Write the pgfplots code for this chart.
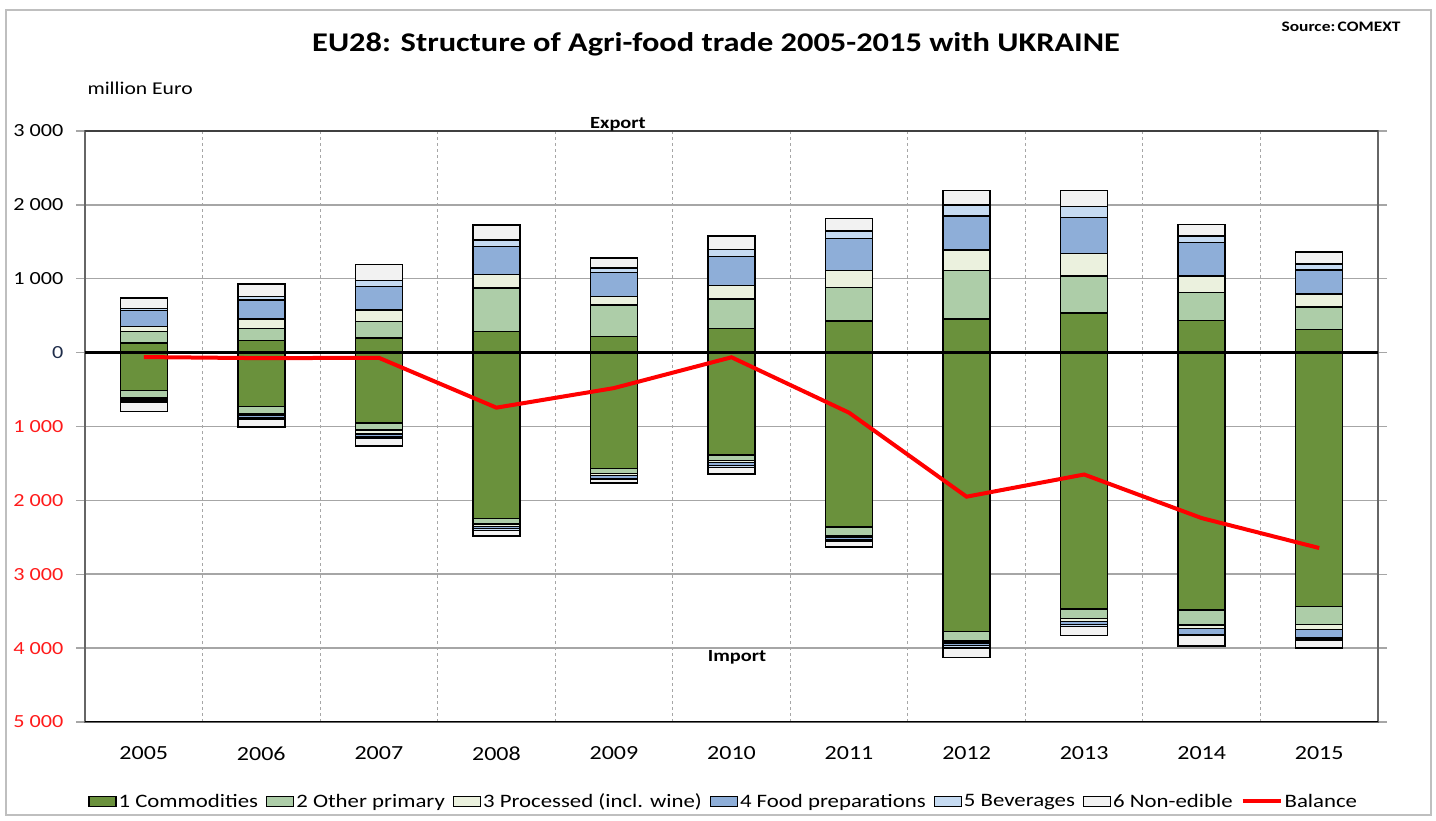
\documentclass[border=0pt]{standalone}
\usepackage{pgfplots}
\pgfplotsset{compat=1.18}
\usepackage{pgfplotstable}
\usepackage{fontspec}
\setmainfont[FakeStretch=1.2]{Carlito}
\definecolor{c1}{HTML}{6A913C}
\definecolor{c2}{HTML}{ADCDA8}
\definecolor{c3}{HTML}{EBF1DE}
\definecolor{c4}{HTML}{8EAED8}
\definecolor{c5}{HTML}{C6DBF2}
\definecolor{c6}{HTML}{F2F2F2}
\definecolor{negred}{HTML}{FF1A1A}
\definecolor{zeroc}{HTML}{1F2D4A}
\definecolor{gridc}{HTML}{A6A6A6}

\pgfplotstableread{
x c1 c2 c3 c4 c5 c6
0 130 155 65 220 25 145
1 163 167 126 258 49 167
2 200 224 154 320 75 217
3 285 592 180 383 87 203
4 221 425 117 325 60 135
5 325 403 180 393 91 189
6 430 452 227 439 99 172
7 457 652 280 462 149 195
8 538 498 308 489 144 218
9 434 376 226 453 90 159
10 317 303 172 326 81 163
}\exports

\pgfplotstableread{
x c1 c2 c3 c4 c5 c6
0 -513 -102 -25 -20 -15 -120
1 -730 -100 -25 -20 -25 -105
2 -950 -95 -55 -38 -18 -109
3 -2242 -78 -30 -30 -30 -70
4 -1568 -67 -30 -35 -20 -45
5 -1388 -72 -25 -45 -25 -89
6 -2363 -112 -20 -35 -22 -80
7 -3776 -130 -24 -35 -35 -126
8 -3471 -125 -45 -36 -32 -121
9 -3484 -202 -45 -81 -18 -139
10 -3435 -247 -67 -112 -27 -112
}\imports

\pgfplotsset{
  base/.style={
    at={(85pt,99pt)}, anchor=south west,
    width=1293pt, height=591pt, scale only axis,
    xmin=-0.5, xmax=10.5, ymin=-5000, ymax=3000,
  },
  bars/.style={
    ybar stacked, bar width=47pt,
    every axis plot/.append style={draw=black, line width=1.4pt},
  },
}

\begin{document}
\begin{tikzpicture}[x=1pt,y=1pt]
\useasboundingbox (0,0) rectangle (1436,821);
\draw[black!25, line width=1.5pt] (6,6) rectangle (1431,811);

% exports with frame and grid
\begin{axis}[base, bars,
  axis line style={black!60, line width=1.3pt},
  xtick={0,...,10},
  xticklabels={2005,2006,2007,2008,2009,2010,2011,2012,2013,2014,2015},
  xticklabel style={font=\fontsize{20}{22}\selectfont, yshift=-12pt},
  major x tick style={draw=none},
  minor xtick={0.5,1.5,...,9.5},
  minor x tick style={draw=none},
  xminorgrids,
  minor x grid style={gridc, line width=1.1pt, dash pattern=on 3pt off 3pt},
  ytick={-5000,-4000,...,3000},
  yticklabels={\textcolor{negred}{5 000},\textcolor{negred}{4 000},\textcolor{negred}{3 000},\textcolor{negred}{2 000},\textcolor{negred}{1 000},\textcolor{zeroc}{0},1 000,2 000,3 000},
  yticklabel style={font=\fontsize{18.5}{20}\selectfont, xshift=-9pt},
  ymajorgrids,
  major y grid style={gridc, line width=1.5pt},
  tick align=outside, major tick length=9pt,
  y tick style={gridc, line width=1.3pt},
]
\addplot[fill=c1] table[x=x,y=c1]{\exports};
\addplot[fill=c2] table[x=x,y=c2]{\exports};
\addplot[fill=c3] table[x=x,y=c3]{\exports};
\addplot[fill=c4] table[x=x,y=c4]{\exports};
\addplot[fill=c5] table[x=x,y=c5]{\exports};
\addplot[fill=c6] table[x=x,y=c6]{\exports};
\end{axis}

% imports
\begin{axis}[base, bars, hide axis]
\addplot[fill=c1] table[x=x,y=c1]{\imports};
\addplot[fill=c2] table[x=x,y=c2]{\imports};
\addplot[fill=c3] table[x=x,y=c3]{\imports};
\addplot[fill=c4] table[x=x,y=c4]{\imports};
\addplot[fill=c5] table[x=x,y=c5]{\imports};
\addplot[fill=c6] table[x=x,y=c6]{\imports};
\end{axis}

% zero line, balance, legend
\begin{axis}[base, hide axis,
  legend style={at={(0.494,-0.134)}, anchor=center, draw=none, fill=none,
    font=\fontsize{19}{21}\selectfont,
    /tikz/every even column/.append style={column sep=6pt}},
  legend columns=7, legend cell align=left,
]
\draw[black!75, line width=1.5pt] (axis cs:-0.5,3000) -- (axis cs:10.5,3000);
\draw[black, line width=2.5pt] (axis cs:-0.5,0) -- (axis cs:10.5,0);
\draw[black, line width=1.5pt] (axis cs:-0.5,-5000) -- (axis cs:10.5,-5000);
\addlegendimage{legend image code/.code={\draw[fill=c1,draw=black,line width=1.2pt] (0pt,-5pt) rectangle (27pt,5pt);}}
\addlegendentry{1 Commodities}
\addlegendimage{legend image code/.code={\draw[fill=c2,draw=black,line width=1.2pt] (0pt,-5pt) rectangle (27pt,5pt);}}
\addlegendentry{2 Other primary}
\addlegendimage{legend image code/.code={\draw[fill=c3,draw=black,line width=1.2pt] (0pt,-5pt) rectangle (27pt,5pt);}}
\addlegendentry{3 Processed (incl. wine)}
\addlegendimage{legend image code/.code={\draw[fill=c4,draw=black,line width=1.2pt] (0pt,-5pt) rectangle (27pt,5pt);}}
\addlegendentry{4 Food preparations}
\addlegendimage{legend image code/.code={\draw[fill=c5,draw=black,line width=1.2pt] (0pt,-5pt) rectangle (27pt,5pt);}}
\addlegendentry{5 Beverages}
\addlegendimage{legend image code/.code={\draw[fill=c6,draw=black,line width=1.2pt] (0pt,-5pt) rectangle (27pt,5pt);}}
\addlegendentry{6 Non-edible}
\addplot[red, line width=4pt, no marks, sharp plot,
  legend image code/.code={\draw[red,line width=4pt] (0pt,0pt) -- (38pt,0pt);}]
  coordinates {(0,-60)(1,-75)(2,-70)(3,-745)(4,-480)(5,-63)(6,-813)(7,-1950)(8,-1650)(9,-2240)(10,-2645)};
\addlegendentry{Balance}
\end{axis}

\node[font=\bfseries\fontsize{27}{30}\selectfont] at (716,777) {EU28: Structure of Agri-food trade 2005-2015 with UKRAINE};
\node[font=\bfseries\fontsize{14.5}{16}\selectfont, anchor=east] at (1404,794) {Source:\,COMEXT};
\node[font=\fontsize{18}{20}\selectfont, anchor=west] at (84,733) {million Euro};
\node[font=\bfseries\fontsize{17}{19}\selectfont] at (618,697) {Export};
\node[font=\bfseries\fontsize{17}{19}\selectfont] at (737,164) {Import};
\end{tikzpicture}
\end{document}
